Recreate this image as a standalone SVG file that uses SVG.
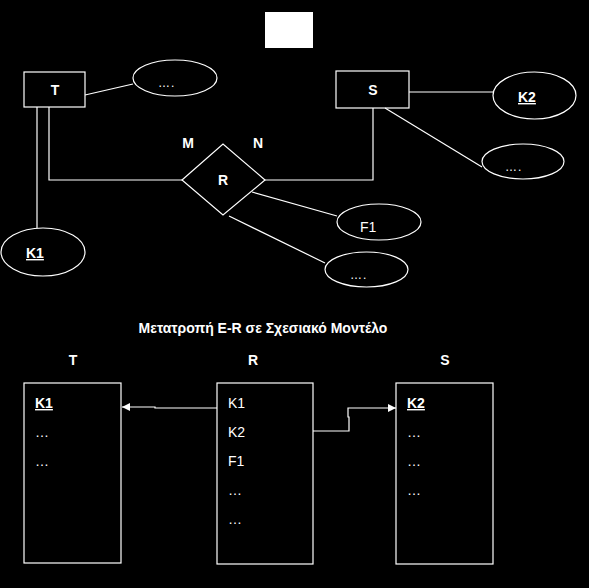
<svg xmlns="http://www.w3.org/2000/svg" width="589" height="588" viewBox="0 0 589 588">
<defs>
<style>
.bg{fill:#000}
.sh{fill:none;stroke:#fff;stroke-width:1.2}
.ln{fill:none;stroke:#fff;stroke-width:1.2}
.b{font-family:"Liberation Sans",Arial,sans-serif;font-weight:bold;font-size:14px;fill:#fff}
.n{font-family:"Liberation Sans",Arial,sans-serif;font-size:14px;fill:#fff}
.d{font-family:"Liberation Sans",Arial,sans-serif;font-size:12px;fill:#fff;letter-spacing:1px}
.u{text-decoration:underline}
</style>
<marker id="ah" viewBox="0 0 10 10" refX="10" refY="5" markerWidth="8" markerHeight="8" markerUnits="userSpaceOnUse" orient="auto">
<path d="M0,0 L10,5 L0,10 z" fill="#fff"/>
</marker>
</defs>
<rect class="bg" x="0" y="0" width="589" height="588"/>
<rect x="265" y="12" width="48" height="36" fill="#fff"/>

<g id="connectors">
<line class="ln" x1="85" y1="95" x2="133" y2="84"/>
<line class="ln" x1="37" y1="107" x2="37" y2="228"/>
<polyline class="ln" points="49,107 49,180 182,180"/>
<polyline class="ln" points="265,180 373,180 373,108"/>
<line class="ln" x1="409" y1="92" x2="493" y2="92"/>
<line class="ln" x1="385" y1="108" x2="482" y2="167"/>
<line class="ln" x1="252" y1="192" x2="337" y2="216"/>
<line class="ln" x1="229" y1="216" x2="325" y2="263"/>
<polyline class="ln" points="217,408 155,408 155,407 122,407" marker-end="url(#ah)"/>
<polyline class="ln" points="313,431 349,431 349,417 348,417 348,408 396,408" marker-end="url(#ah)"/>
</g>

<g id="T">
<rect class="sh" x="24" y="72" width="61" height="35"/>
<text class="b" x="55" y="95" text-anchor="middle">T</text>
</g>
<g id="S">
<rect class="sh" x="336" y="71" width="73" height="37"/>
<text class="b" x="373" y="95" text-anchor="middle">S</text>
</g>
<g id="R">
<polygon class="sh" points="182,180 223,144 265,180 223,215"/>
<text class="b" x="223" y="185" text-anchor="middle">R</text>
</g>
<g id="labelM"><text class="b" x="188" y="148" text-anchor="middle">M</text></g>
<g id="labelN"><text class="b" x="258" y="148" text-anchor="middle">N</text></g>
<g id="T_attr">
<ellipse class="sh" cx="175" cy="78" rx="42" ry="18"/>
<text class="d" x="158" y="87">….</text>
</g>
<g id="K1">
<ellipse class="sh" cx="43" cy="252" rx="42" ry="24"/>
<text class="b u" x="26" y="258">K1</text>
</g>
<g id="K2">
<ellipse class="sh" cx="534.5" cy="95.5" rx="41.5" ry="23.5"/>
<text class="b u" x="518" y="102">K2</text>
</g>
<g id="S_attr">
<ellipse class="sh" cx="523" cy="161.5" rx="41" ry="17.5"/>
<text class="d" x="505" y="171">….</text>
</g>
<g id="F1">
<ellipse class="sh" cx="379" cy="222" rx="42" ry="18"/>
<text class="n" x="360" y="232">F1</text>
</g>
<g id="R_attr">
<ellipse class="sh" cx="366.5" cy="269.5" rx="41.5" ry="17.5"/>
<text class="d" x="350" y="279">….</text>
</g>

<text class="b" x="263" y="333" text-anchor="middle" font-size="13.5">Μετατροπή E-R σε Σχεσιακό Μοντέλο</text>

<g id="tableT">
<text class="b" x="73" y="365" text-anchor="middle">T</text>
<rect class="sh" x="24" y="383" width="97" height="180"/>
<text class="b u" x="35" y="408">K1</text>
<text class="n" x="35" y="437">…</text>
<text class="n" x="35" y="466">…</text>
</g>
<g id="tableR">
<text class="b" x="253" y="365" text-anchor="middle">R</text>
<rect class="sh" x="217" y="383" width="96" height="181"/>
<text class="n" x="228" y="408">K1</text>
<text class="n" x="228" y="437">K2</text>
<text class="n" x="228" y="466">F1</text>
<text class="n" x="228" y="495">…</text>
<text class="n" x="228" y="524">…</text>
</g>
<g id="tableS">
<text class="b" x="445" y="365" text-anchor="middle">S</text>
<rect class="sh" x="396" y="383" width="97" height="181"/>
<text class="b u" x="407" y="408">K2</text>
<text class="n" x="407" y="437">…</text>
<text class="n" x="407" y="466">…</text>
<text class="n" x="407" y="495">…</text>
</g>
</svg>
